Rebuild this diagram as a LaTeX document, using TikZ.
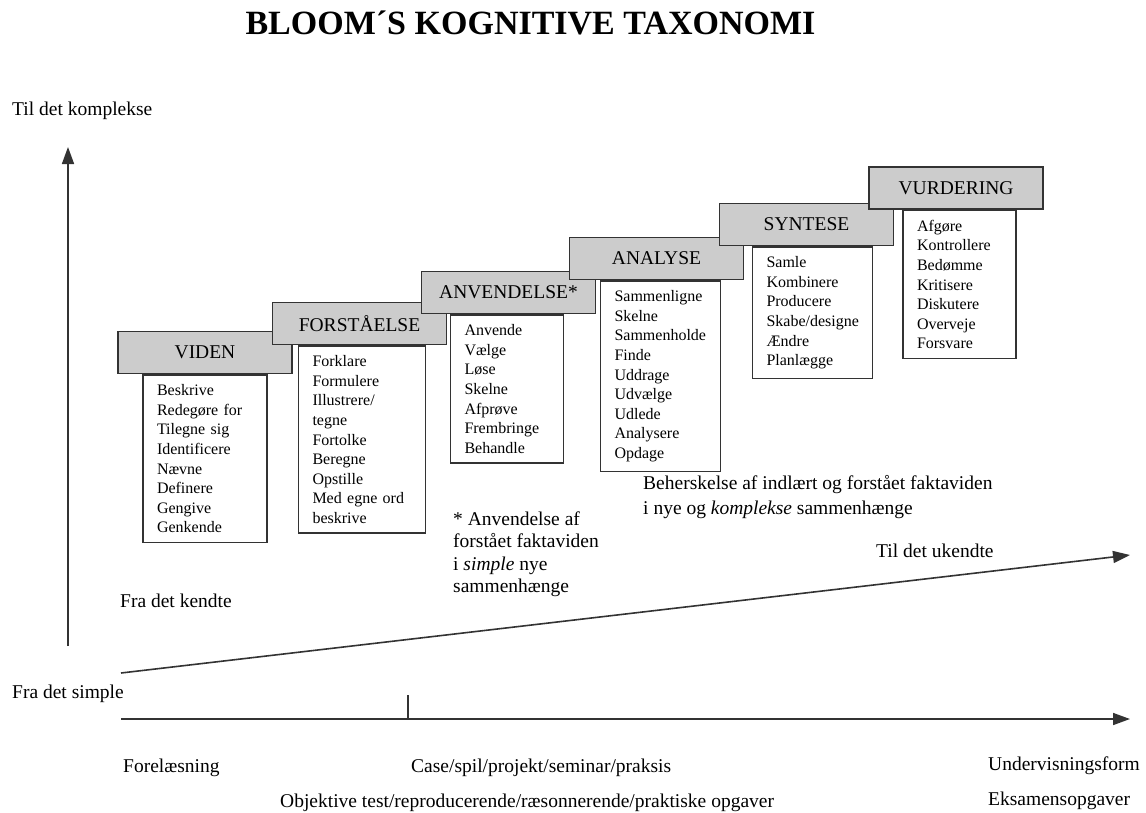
\documentclass[tikz,border=0pt]{standalone}
\usepackage{fontspec}
\setmainfont{Liberation Serif}
\usetikzlibrary{arrows.meta, positioning}

\begin{document}
\begin{tikzpicture}[x=1pt, y=-1pt,
    trin/.style={rectangle, draw=black!80, line width=1.5pt, fill=black!20, minimum width=174pt, minimum height=42pt, inner sep=0pt, font=\fontsize{19.5}{22}\selectfont},
    liste/.style={rectangle, draw=black!80, line width=1.5pt, fill=white, anchor=north west, align=left, inner xsep=14pt, inner ysep=9.5pt, font=\fontsize{16}{19.6}\selectfont},
    tekst/.style={anchor=base west, inner sep=0pt, font=\fontsize{19.5}{24}\selectfont},
    pil/.style={line width=1.6pt, draw=black!80, -{Triangle[length=17pt,width=12pt]}}]
    \useasboundingbox (0,0) rectangle (1146,812);

    % 标题
    \node[anchor=base, inner sep=0pt, font=\fontsize{34}{40}\selectfont\bfseries] (titel) at (530.5,34) {BLOOM´S KOGNITIVE TAXONOMI};

    % 六级台阶
    \node[trin] (viden) at (205,352.5) {VIDEN};
    \node[liste, text width=96pt] (viden-ord) at ([xshift=25pt]viden.south west) {Beskrive\\Redegøre for\\Tilegne sig\\Identificere\\Nævne\\Definere\\Gengive\\Genkende};

    \node[trin] (forstaaelse) at (359.5,323.5) {FORSTÅELSE};
    \node[liste, text width=99pt] (forstaaelse-ord) at ([xshift=26pt]forstaaelse.south west) {Forklare\\Formulere\\Illustrere/\\tegne\\Fortolke\\Beregne\\Opstille\\Med egne ord\\beskrive};

    \node[trin] (anvendelse) at (508.5,292.5) {ANVENDELSE*};
    \node[liste, text width=85pt] (anvendelse-ord) at ([xshift=29pt]anvendelse.south west) {Anvende\\Vælge\\Løse\\Skelne\\Afprøve\\Frembringe\\Behandle};

    \node[trin] (analyse) at (656.5,258.5) {ANALYSE};
    \node[liste, text width=92pt] (analyse-ord) at ([xshift=31pt]analyse.south west) {Sammenligne\\Skelne\\Sammenholde\\Finde\\Uddrage\\Udvælge\\Udlede\\Analysere\\Opdage};

    \node[trin] (syntese) at (806.5,224.5) {SYNTESE};
    \node[liste, text width=92pt] (syntese-ord) at ([xshift=33pt]syntese.south west) {Samle\\Kombinere\\Producere\\Skabe/designe\\Ændre\\Planlægge};

    \node[trin] (vurdering) at (956,188) {VURDERING};
    \node[liste, text width=85pt] (vurdering-ord) at ([xshift=34pt]vurdering.south west) {Afgøre\\Kontrollere\\Bedømme\\Kritisere\\Diskutere\\Overveje\\Forsvare};

    % 说明文字
    \node[anchor=north west, inner sep=0pt, align=left, font=\fontsize{19.5}{22.2}\selectfont] (stjerne) at (453,511.7) {* Anvendelse af\\forstået faktaviden\\i \textit{simple} nye\\sammenhænge};
    \node[anchor=north west, inner sep=0pt, align=left, font=\fontsize{19.5}{25}\selectfont] (beherskelse) at (643,475.3) {Beherskelse af indlært og forstået faktaviden\\i nye og \textit{komplekse} sammenhænge};

    % 坐标轴
    \coordinate (lodret-start) at (68,646);
    \coordinate (lodret-slut) at (68,147);
    \draw[pil] (lodret-start) -- (lodret-slut);
    \coordinate (skraa-start) at (121,673);
    \coordinate (skraa-slut) at (1130,555);
    \draw[pil] (skraa-start) -- (skraa-slut);
    \coordinate (vandret-start) at (121,719);
    \coordinate (vandret-slut) at (1130,719);
    \draw[pil] (vandret-start) -- (vandret-slut);
    \coordinate (maerke) at (408,695);
    \draw[line width=1.6pt, draw=black!80] (maerke) -- (maerke |- vandret-start);

    % 轴上标注
    \node[tekst] (komplekse) at (12,115) {Til det komplekse};
    \node[tekst] (simple) at (12,698) {Fra det simple};
    \node[tekst] (kendte) at (120,607) {Fra det kendte};
    \node[tekst] (ukendte) at (876,557) {Til det ukendte};

    % 下方标注
    \node[tekst] (forelaesning) at (123,772) {Forelæsning};
    \node[tekst] (case) at (411,772) {Case/spil/projekt/seminar/praksis};
    \node[tekst] (objektiv) at (280,807) {Objektive test/reproducerende/ræsonnerende/praktiske opgaver};
    \node[tekst] (undervisning) at (988,770) {Undervisningsform};
    \node[tekst] (eksamen) at (988,805) {Eksamensopgaver};
\end{tikzpicture}
\end{document}
